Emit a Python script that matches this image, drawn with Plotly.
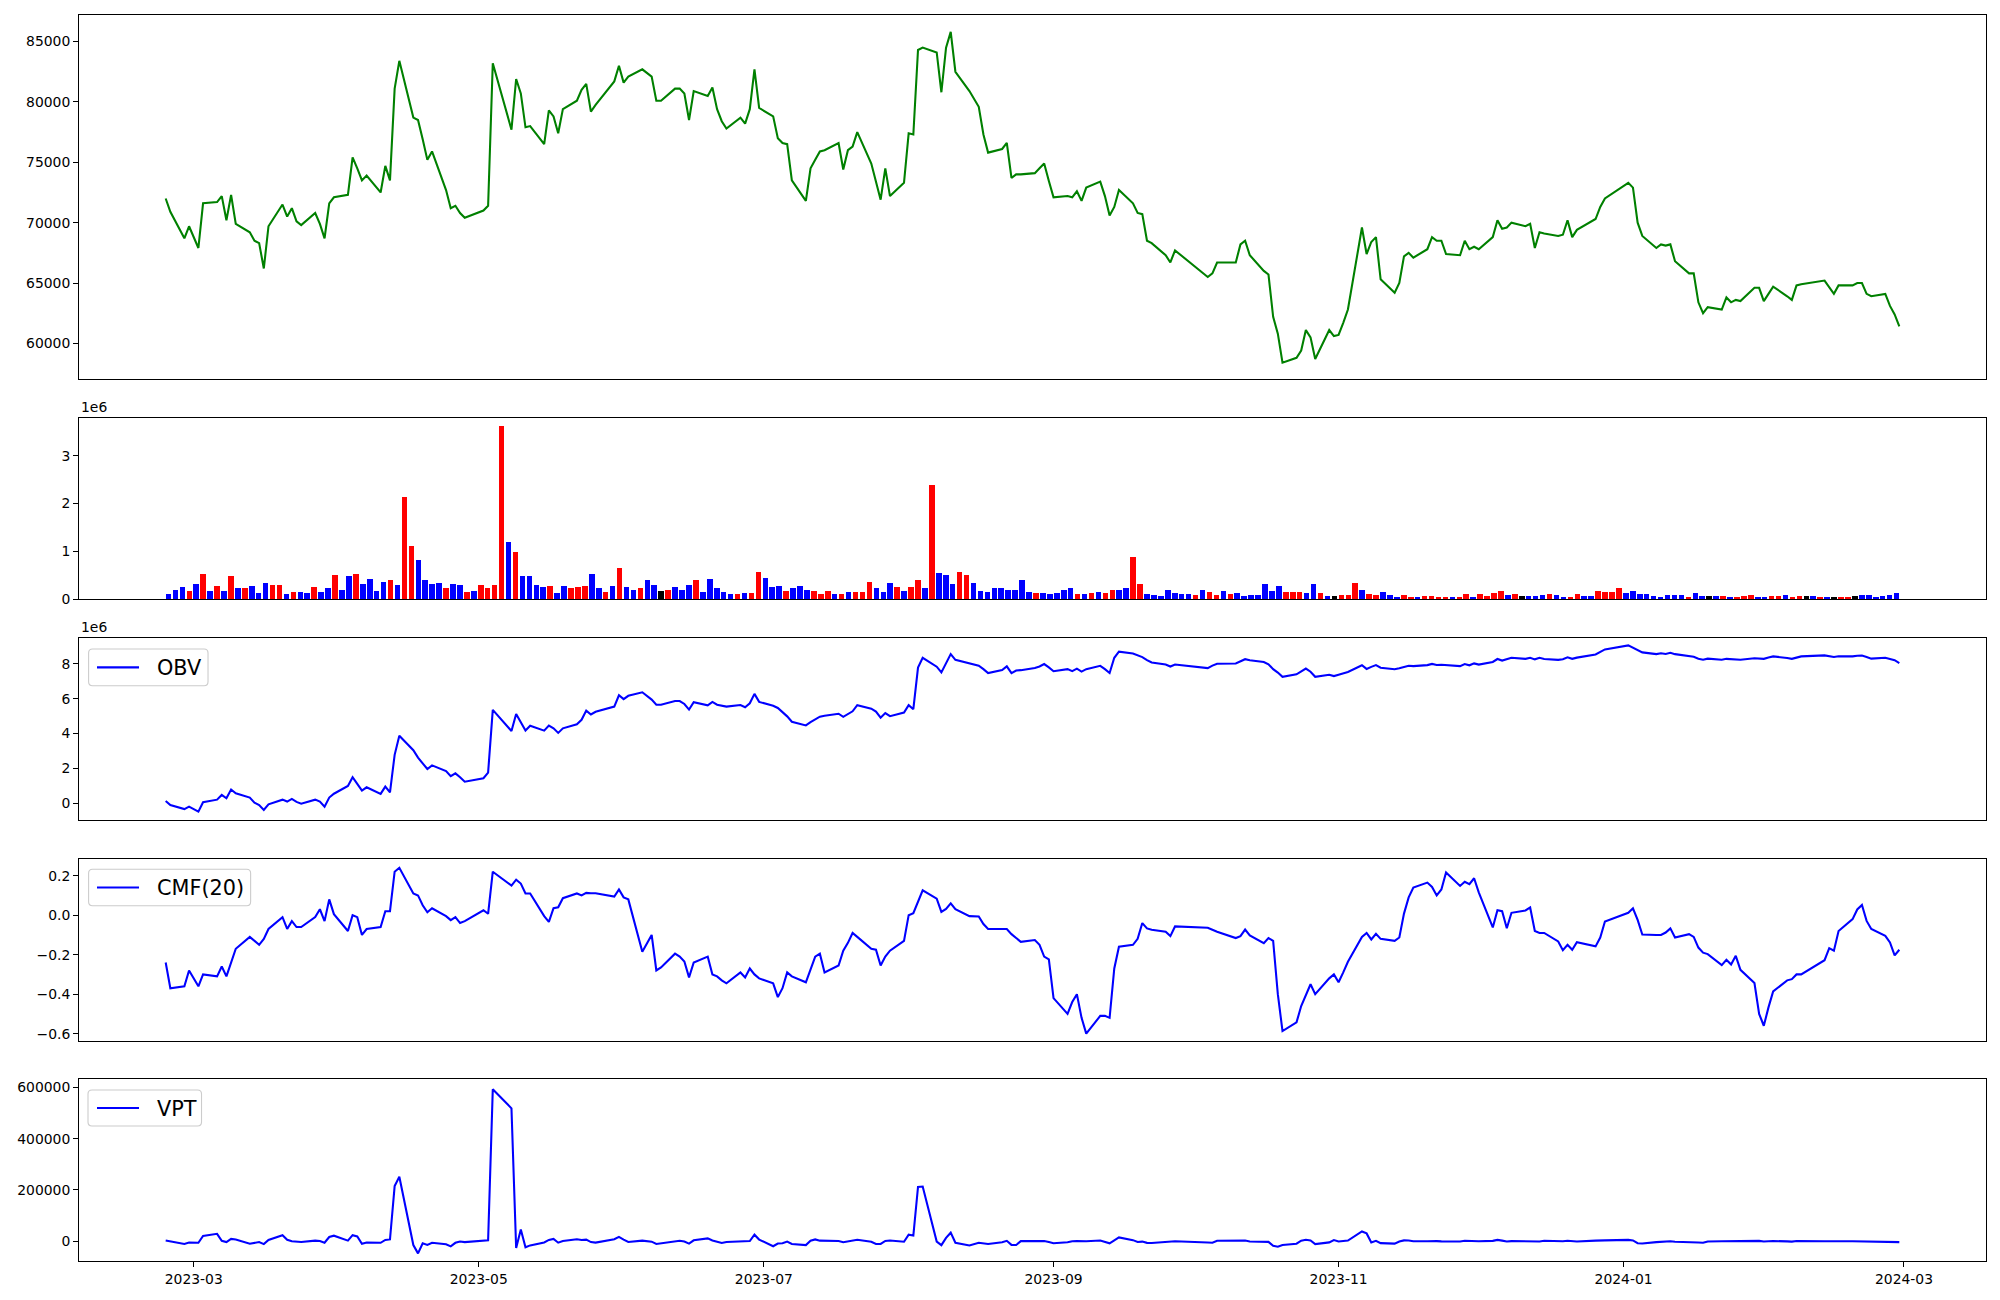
import pandas as pd
import plotly.graph_objects as go

# ---------------- data ----------------
KRX_HOLIDAYS = ["2023-03-01", "2023-05-01", "2023-05-05", "2023-05-29", "2023-06-06",
                "2023-08-15", "2023-09-28", "2023-09-29", "2023-10-02", "2023-10-03",
                "2023-10-09", "2023-12-25", "2023-12-29", "2024-01-01", "2024-02-09",
                "2024-02-12"]
dates = pd.bdate_range("2023-02-23", "2024-02-29", freq="C", holidays=KRX_HOLIDAYS)

close = [
    72000, 70900, 68700, 69700, 67900, 71600, 71700, 72200, 70200, 72300,
    69900, 69200, 68500, 68300, 66200, 69700, 71500, 70500, 71200, 70100,
    69800, 70800, 69900, 68700, 71600, 72100, 72300, 75400, 74500, 73500,
    73900, 72500, 74700, 73500, 81100, 83400, 78700, 78500, 76900, 75200,
    75900, 72700, 71200, 71400, 70800, 70400, 71000, 71400, 83200, 77700,
    81900, 80700, 77900, 78000, 76500, 79300, 78800, 77400, 79400, 80100,
    81000, 81500, 79200, 79750, 81700, 83000, 81600, 82100, 82700, 82100,
    80100, 80100, 81100, 81100, 80700, 78500, 80900, 80500, 81200, 79400,
    78400, 77800, 78700, 78200, 79400, 82700, 79500, 78800, 77000, 76600,
    76500, 73500, 71800, 74500, 75200, 75900, 76000, 76600, 74400, 76000,
    76300, 77500, 74900, 73450, 71900, 74500, 72200, 73300, 77400, 77300,
    84300, 84500, 84100, 80800, 84500, 85800, 82500, 80900, 79600, 77300,
    75800, 76100, 76600, 73700, 74000, 74000, 74100, 74500, 74900, 73450,
    72100, 72200, 72100, 72600, 71800, 72900, 73400, 72200, 70600, 71300,
    72700, 71600, 70800, 70700, 68500, 68300, 67300, 66700, 67700, 65500,
    65800, 66700, 66700, 68200, 68500, 67300, 66000, 65700, 62200, 60800,
    58400, 58800, 59400, 61100, 60500, 58700, 61100, 60600, 60700, 61700,
    62800, 69600, 67400, 68400, 68800, 65300, 64200, 65000, 67200, 67500,
    67100, 67800, 68800, 68500, 68500, 67400, 67300, 68500, 67800, 68000,
    67800, 68800, 70200, 69500, 69600, 70000, 69700, 69900, 67900, 69200,
    69100, 68900, 69000, 70200, 68800, 69400, 70300, 71300, 72000, 73300,
    72900, 70000, 68900, 67900, 68200, 68100, 68200, 66800, 65800, 65800,
    63400, 62500, 63000, 62800, 63800, 63400, 63600, 63500, 64600, 64600,
    63500, 64100, 64700, 63900, 63600, 64800, 64900, 65200, 64700, 64100,
    64800, 64800, 65000, 65000, 64100, 63900, 64100, 63100, 62400, 61400,
]

volume_m = [
    0.11, 0.19, 0.24, 0.17, 0.32, 0.53, 0.17, 0.26, 0.17, 0.47,
    0.22, 0.22, 0.26, 0.13, 0.34, 0.30, 0.30, 0.11, 0.15, 0.15,
    0.13, 0.24, 0.15, 0.22, 0.49, 0.19, 0.47, 0.53, 0.32, 0.42,
    0.17, 0.36, 0.40, 0.30, 2.13, 1.11, 0.82, 0.40, 0.32, 0.34,
    0.22, 0.32, 0.30, 0.15, 0.17, 0.30, 0.22, 0.30, 3.61, 1.19,
    0.97, 0.47, 0.47, 0.30, 0.24, 0.28, 0.13, 0.26, 0.22, 0.24,
    0.28, 0.53, 0.22, 0.15, 0.28, 0.65, 0.24, 0.19, 0.22, 0.40,
    0.30, 0.17, 0.19, 0.24, 0.19, 0.30, 0.40, 0.15, 0.42, 0.22,
    0.15, 0.11, 0.11, 0.13, 0.13, 0.57, 0.44, 0.24, 0.28, 0.17,
    0.22, 0.26, 0.19, 0.17, 0.11, 0.17, 0.11, 0.11, 0.15, 0.15,
    0.15, 0.36, 0.22, 0.15, 0.34, 0.24, 0.17, 0.24, 0.40, 0.22,
    2.38, 0.55, 0.51, 0.32, 0.57, 0.49, 0.34, 0.17, 0.15, 0.22,
    0.22, 0.19, 0.19, 0.40, 0.15, 0.13, 0.13, 0.11, 0.13, 0.19,
    0.22, 0.11, 0.11, 0.13, 0.15, 0.13, 0.19, 0.19, 0.22, 0.88,
    0.32, 0.11, 0.09, 0.07, 0.19, 0.13, 0.11, 0.11, 0.09, 0.19,
    0.15, 0.09, 0.17, 0.11, 0.13, 0.07, 0.09, 0.09, 0.32, 0.17,
    0.26, 0.15, 0.15, 0.15, 0.13, 0.32, 0.13, 0.07, 0.07, 0.09,
    0.09, 0.34, 0.19, 0.11, 0.09, 0.15, 0.09, 0.05, 0.09, 0.05,
    0.03, 0.07, 0.07, 0.05, 0.05, 0.05, 0.05, 0.11, 0.05, 0.11,
    0.07, 0.13, 0.17, 0.09, 0.11, 0.07, 0.07, 0.07, 0.09, 0.11,
    0.09, 0.05, 0.05, 0.11, 0.07, 0.07, 0.17, 0.15, 0.15, 0.22,
    0.13, 0.17, 0.11, 0.11, 0.07, 0.05, 0.09, 0.09, 0.09, 0.05,
    0.13, 0.07, 0.07, 0.07, 0.07, 0.03, 0.05, 0.07, 0.09, 0.05,
    0.05, 0.07, 0.07, 0.09, 0.05, 0.07, 0.07, 0.07, 0.05, 0.05,
    0.05, 0.05, 0.05, 0.07, 0.09, 0.09, 0.05, 0.07, 0.09, 0.13,
]

# bar colour codes: R = red, B = blue, K = black
bar_codes = (
    "BBBRBRBRBR" "BRBBBRRBRB" "BRBBRBBRBB" "BBRBRRBBBB" "RBBRBRRRRB"
    "RBBBBRBBRR" "RBBRBRBBRB" "BKRBBBRBBB" "BBRBRRBBBR" "BBBRRRBRBR"
    "RRBBBRBRRB" "RBBBRRBBBB" "BBBBBRBBBB" "BRBRBRRBBR" "RBBBBBBBRB"
    "RRBRBBBBBB" "BRRRBBRBKR" "RRBRRBBBRR" "BRRRRBRRBR" "RRRBRKBBBR"
    "BBRRBBRRRR" "BBBBBBBBBR" "BBKBRBRRRB" "BRRBRRKBRB" "KRRKBBBBBB"
)

obv_m = [
    0.13, -0.10, -0.33, -0.19, -0.48, 0.06, 0.21, 0.48, 0.29, 0.79,
    0.58, 0.33, 0.04, -0.10, -0.38, -0.06, 0.21, 0.10, 0.25, 0.08,
    -0.02, 0.21, 0.10, -0.19, 0.33, 0.55, 1.00, 1.50, 1.12, 0.73,
    0.92, 0.54, 0.96, 0.63, 2.78, 3.88, 3.05, 2.62, 2.29, 1.97,
    2.18, 1.85, 1.56, 1.72, 1.50, 1.24, 1.44, 1.76, 5.36, 4.15,
    5.13, 4.63, 4.18, 4.45, 4.17, 4.46, 4.30, 4.04, 4.30, 4.53,
    4.79, 5.32, 5.10, 5.25, 5.55, 6.20, 5.98, 6.17, 6.37, 5.95,
    5.66, 5.66, 5.87, 5.87, 5.70, 5.38, 5.80, 5.62, 5.82, 5.66,
    5.59, 5.55, 5.64, 5.51, 5.74, 6.28, 5.82, 5.60, 5.47, 5.24,
    4.99, 4.68, 4.47, 4.66, 4.80, 4.97, 5.03, 5.14, 4.96, 5.11,
    5.28, 5.63, 5.43, 5.26, 4.91, 5.18, 5.00, 5.21, 5.63, 5.40,
    7.79, 8.35, 7.84, 7.51, 8.05, 8.56, 8.23, 8.05, 7.90, 7.70,
    7.47, 7.65, 7.86, 7.47, 7.62, 7.64, 7.76, 7.85, 7.99, 7.80,
    7.58, 7.70, 7.58, 7.73, 7.56, 7.70, 7.89, 7.70, 7.48, 8.35,
    8.70, 8.60, 8.50, 8.39, 8.22, 8.08, 7.96, 7.85, 7.96, 7.76,
    7.90, 8.01, 8.02, 8.14, 8.27, 8.21, 8.11, 7.98, 7.70, 7.50,
    7.26, 7.40, 7.55, 7.73, 7.55, 7.26, 7.38, 7.30, 7.38, 7.46,
    7.54, 7.92, 7.71, 7.83, 7.93, 7.78, 7.69, 7.75, 7.83, 7.89,
    7.87, 7.93, 8.00, 7.94, 7.95, 7.92, 7.87, 7.99, 7.92, 8.03,
    7.96, 8.11, 8.28, 8.19, 8.28, 8.35, 8.29, 8.35, 8.26, 8.35,
    8.28, 8.23, 8.27, 8.38, 8.29, 8.36, 8.54, 8.67, 8.83, 9.06,
    8.94, 8.78, 8.66, 8.56, 8.61, 8.57, 8.64, 8.56, 8.47, 8.41,
    8.30, 8.24, 8.30, 8.24, 8.29, 8.27, 8.29, 8.24, 8.32, 8.32,
    8.29, 8.37, 8.43, 8.34, 8.29, 8.36, 8.43, 8.49, 8.45, 8.40,
    8.44, 8.43, 8.47, 8.48, 8.40, 8.30, 8.35, 8.30, 8.21, 8.04,
]

cmf = [
    -0.24, -0.37, -0.36, -0.28, -0.36, -0.30, -0.31, -0.26, -0.31, -0.24,
    -0.17, -0.11, -0.13, -0.15, -0.12, -0.07, -0.01, -0.07, -0.03, -0.06,
    -0.06, -0.01, 0.03, -0.03, 0.08, 0.005, -0.08, 0.00, -0.01, -0.10,
    -0.07, -0.06, 0.02, 0.02, 0.22, 0.24, 0.11, 0.10, 0.05, 0.015,
    0.035, -0.005, -0.025, -0.01, -0.04, -0.03, 0.025, 0.007, 0.22, 0.15,
    0.18, 0.16, 0.11, 0.11, -0.005, -0.034, 0.035, 0.04, 0.086, 0.11,
    0.10, 0.113, 0.111, 0.111, 0.094, 0.13, 0.09, 0.08, -0.185, -0.10,
    -0.28, -0.265, -0.195, -0.21, -0.235, -0.315, -0.24, -0.21, -0.30, -0.31,
    -0.33, -0.345, -0.29, -0.315, -0.27, -0.30, -0.32, -0.345, -0.415, -0.37,
    -0.29, -0.31, -0.34, -0.27, -0.21, -0.195, -0.29, -0.255, -0.18, -0.14,
    -0.09, -0.11, -0.17, -0.175, -0.255, -0.21, -0.18, -0.13, 0.0, 0.01,
    0.064, 0.126, 0.084, 0.017, 0.032, 0.06, 0.03, -0.005, -0.007, -0.045,
    -0.07, -0.07, -0.07, -0.096, -0.116, -0.135, -0.126, -0.15, -0.21, -0.224,
    -0.42, -0.50, -0.44, -0.40, -0.52, -0.60, -0.51, -0.51, -0.52, -0.27,
    -0.16, -0.15, -0.12, -0.04, -0.067, -0.074, -0.084, -0.106, -0.057, -0.064,
    -0.074, -0.084, -0.116, -0.106, -0.073, -0.103, -0.142, -0.116, -0.13, -0.40,
    -0.587, -0.543, -0.46, -0.40, -0.35, -0.40, -0.32, -0.30, -0.34, -0.29,
    -0.236, -0.11, -0.09, -0.123, -0.094, -0.12, -0.13, -0.113, 0.008, 0.09,
    0.14, 0.165, 0.143, 0.10, 0.13, 0.216, 0.148, 0.169, 0.157, 0.187,
    0.116, -0.062, 0.025, 0.02, -0.066, 0.012, 0.024, 0.039, -0.08, -0.09,
    -0.09, -0.133, -0.177, -0.15, -0.175, -0.137, -0.158, -0.113, -0.032, 0.012,
    0.035, -0.024, -0.098, -0.10, -0.10, -0.088, -0.067, -0.113, -0.096, -0.11,
    -0.164, -0.19, -0.197, -0.253, -0.226, -0.25, -0.206, -0.277, -0.344, -0.50,
    -0.56, -0.467, -0.386, -0.33, -0.324, -0.30, -0.30, -0.228, -0.167, -0.18,
    -0.08, -0.02, 0.029, 0.052, -0.029, -0.07, -0.105, -0.138, -0.204, -0.175,
]

vpt = [
    3000, -1000, -10300, -4900, -5800, 20600, 29100, 2000, -2900, 9400,
    6800, -9500, -4800, -3000, -10800, 5500, 23600, 6200, 0, -800,
    -2900, 2800, 1500, -5700, 16900, 22000, 2600, 24000, 18900, -9400,
    -4700, -5900, 5300, 7300, 215000, 251500, -14500, -47000, -7500, -14000,
    -5500, -11500, -19700, -5800, -1000, -3100, 200, 3600, 592000, 518000,
    -26200, 45600, -23200, -15900, -4200, 5600, 9400, -5400, 1100, 7800,
    5200, 6400, -2900, -5200, 7900, 17200, 6300, -2800, 2800, -1300,
    -10200, -7300, 2400, 2400, -900, -9100, 4000, 11500, 3000, -1200,
    -6800, -2700, 500, 500, 1200, 25700, 6700, -19100, -8500, -7300,
    -1200, -10500, -14600, 2000, 7400, 2600, 1700, 1000, -3400, -1100,
    3800, 6300, -1700, -10300, -10100, 1500, 3400, -1600, 26100, 22400,
    212000, 213300, -1100, -15000, 13500, 33600, -5600, -16400, -5700, -8800,
    -10700, -3500, 2000, -14000, -14600, 600, 200, 800, 1300, -3000,
    -7700, -3800, 0, 700, -800, 300, 3300, -1800, -8000, 3800,
    15000, 4600, -2700, -1100, -6000, -6300, -2000, -2600, 400, -4800,
    -5500, 1900, 1200, 2500, 3100, -600, -2900, -2100, -17400, -20800,
    -14100, -9300, 2500, 5800, 3000, -10800, -4200, 4700, -500, 1600,
    3100, 38400, 30800, -4400, 2100, -7100, -9100, -900, 3600, 3200,
    0, 500, 1700, 800, -200, -800, -900, 1900, 1500, -200,
    100, 1700, 5400, 2600, -700, 600, 100, -100, -2400, -500,
    2000, -200, 0, 2000, 500, -800, 2800, 4300, 3600, 5500,
    3300, -7500, -8500, -3300, -1300, 200, 0, -1700, -3100, -1300,
    -4700, -5700, -400, 400, 900, 900, 0, 100, 1500, 1600,
    -900, -200, 1400, -400, -1300, 1100, 1400, 400, -100, -900,
    0, 500, 200, 200, -1200, -1500, -100, -900, -2100, -3100,
]

date_ticks = ["2023-03-01", "2023-05-01", "2023-07-01", "2023-09-01",
              "2023-11-01", "2024-01-01", "2024-03-01"]
legend_labels = ["OBV", "CMF(20)", "VPT"]

# ---------------- styling / geometry ----------------
FONT = "DejaVu Sans"
TICK_FONT = dict(family=FONT, size=13.9, color="#000000")
LW = 2.08
code_color = {"R": "#ff0000", "B": "#0000ff", "K": "#000000"}
bar_colors = [code_color[c] for c in bar_codes]
bar_index = list(range(len(volume_m)))

X_RANGE_DATE = ["2023-02-04 10:48:00", "2024-03-18 13:12:00"]
X_RANGE_IDX = [-12.89, len(volume_m) - 1 + 12.89]

# The page body adds an 8px offset; target plot area on screen: x 79..1985.7, y 15..1261
BODY = 8.0
FIG_W, FIG_H = 2000, 1300
PLOT_L, PLOT_T, PLOT_W, PLOT_H = 79.0, 15.0, 1906.7, 1246.0


def px_x(x):
    return (x - PLOT_L) / PLOT_W


def px_y(y):
    return (PLOT_T + PLOT_H - y) / PLOT_H


fig = go.Figure()
fig.add_trace(go.Scatter(x=dates, y=close, mode="lines",
                         line=dict(color="#008000", width=LW),
                         showlegend=False, xaxis="x", yaxis="y"))
fig.add_trace(go.Bar(x=bar_index, y=volume_m, width=0.8,
                     marker=dict(color=bar_colors, line=dict(width=0)),
                     showlegend=False, xaxis="x2", yaxis="y2"))
fig.add_trace(go.Scatter(x=dates, y=obv_m, mode="lines", name=legend_labels[0],
                         line=dict(color="#0000ff", width=LW),
                         showlegend=False, xaxis="x3", yaxis="y3"))
fig.add_trace(go.Scatter(x=dates, y=cmf, mode="lines", name=legend_labels[1],
                         line=dict(color="#0000ff", width=LW),
                         showlegend=False, xaxis="x4", yaxis="y4"))
fig.add_trace(go.Scatter(x=dates, y=vpt, mode="lines", name=legend_labels[2],
                         line=dict(color="#0000ff", width=LW),
                         showlegend=False, xaxis="x5", yaxis="y5"))

frame = dict(showline=True, linecolor="#000000", linewidth=1.1, mirror=True,
             showgrid=False, zeroline=False)
yax = dict(frame, ticks="outside", ticklen=4.9, tickwidth=1.1, tickcolor="#000000",
           tickfont=TICK_FONT)
xhidden = dict(frame, showticklabels=False, ticks="")

domains = {
    1: [0.7076, 1.0],
    2: [0.5311, 0.6763],
    3: [0.3539, 0.5002],
    4: [0.1766, 0.3224],
    5: [0.0, 0.1458],
}

# hand-drawn matplotlib-style legends (box px: left, right, top, bottom)
legend_boxes = [(88.6, 208.0, 649.0, 685.7),
                (88.6, 250.6, 869.3, 905.7),
                (88.0, 201.5, 1090.0, 1126.0)]
shapes = []
annotations = []
r = 4.0
for (bl, br, bt, bb), label in zip(legend_boxes, legend_labels):
    rx, ry = r / PLOT_W, r / PLOT_H
    x0, x1, y0, y1 = px_x(bl), px_x(br), px_y(bb), px_y(bt)
    path = (f"M {x0 + rx},{y1} L {x1 - rx},{y1} Q {x1},{y1} {x1},{y1 - ry} "
            f"L {x1},{y0 + ry} Q {x1},{y0} {x1 - rx},{y0} L {x0 + rx},{y0} "
            f"Q {x0},{y0} {x0},{y0 + ry} L {x0},{y1 - ry} Q {x0},{y1} {x0 + rx},{y1} Z")
    shapes.append(dict(type="path", path=path, xref="paper", yref="paper",
                       line=dict(color="#cccccc", width=1.1),
                       fillcolor="rgba(255,255,255,0.8)", layer="above"))
    cy = (bt + bb) / 2.0
    shapes.append(dict(type="line", xref="paper", yref="paper",
                       x0=px_x(97.0), x1=px_x(139.0), y0=px_y(cy), y1=px_y(cy),
                       line=dict(color="#0000ff", width=LW), layer="above"))
    annotations.append(dict(text=label, xref="paper", yref="paper",
                            x=px_x(155.0), y=px_y(cy + 0.5), xanchor="left", yanchor="middle",
                            showarrow=False,
                            font=dict(family=FONT, size=20.8, color="#000000")))

for k in (2, 3):
    annotations.append(dict(text="1e6", xref="paper", yref="paper", x=0, y=domains[k][1],
                            xanchor="left", yanchor="bottom", showarrow=False,
                            font=TICK_FONT, yshift=1))

fig.update_layout(
    width=FIG_W, height=FIG_H,
    margin=dict(l=PLOT_L - BODY,
                r=FIG_W + BODY - (PLOT_L + PLOT_W),
                t=PLOT_T - BODY,
                b=FIG_H + BODY - (PLOT_T + PLOT_H), pad=0),
    paper_bgcolor="white", plot_bgcolor="white",
    font=dict(family=FONT, size=13.9, color="#000000"),
    showlegend=False,
    bargap=0,
    xaxis=dict(xhidden, type="date", range=X_RANGE_DATE, domain=[0, 1], anchor="y"),
    yaxis=dict(yax, domain=domains[1], range=[57020, 87200],
               tickvals=[60000, 65000, 70000, 75000, 80000, 85000],
               ticktext=["60000", "65000", "70000", "75000", "80000", "85000"], anchor="x"),
    xaxis2=dict(xhidden, range=X_RANGE_IDX, domain=[0, 1], anchor="y2"),
    yaxis2=dict(yax, domain=domains[2], range=[0, 3.78],
                tickvals=[0, 1, 2, 3], ticktext=["0", "1", "2", "3"], anchor="x2"),
    xaxis3=dict(xhidden, type="date", range=X_RANGE_DATE, domain=[0, 1], anchor="y3"),
    yaxis3=dict(yax, domain=domains[3], range=[-0.96, 9.50],
                tickvals=[0, 2, 4, 6, 8], ticktext=["0", "2", "4", "6", "8"], anchor="x3"),
    xaxis4=dict(xhidden, type="date", range=X_RANGE_DATE, domain=[0, 1], anchor="y4"),
    yaxis4=dict(yax, domain=domains[4], range=[-0.637, 0.283],
                tickvals=[-0.6, -0.4, -0.2, 0.0, 0.2],
                ticktext=["\u22120.6", "\u22120.4", "\u22120.2", "0.0", "0.2"], anchor="x4"),
    xaxis5=dict(frame, type="date", range=X_RANGE_DATE, domain=[0, 1], anchor="y5",
                ticks="outside", ticklen=4.9, tickwidth=1.1, tickcolor="#000000",
                tickfont=TICK_FONT, tickvals=date_ticks, tickformat="%Y-%m"),
    yaxis5=dict(yax, domain=domains[5], range=[-76700, 631000],
                tickvals=[0, 200000, 400000, 600000],
                ticktext=["0", "200000", "400000", "600000"], anchor="x5"),
    shapes=shapes,
    annotations=annotations,
)

fig.write_html("out.html")
